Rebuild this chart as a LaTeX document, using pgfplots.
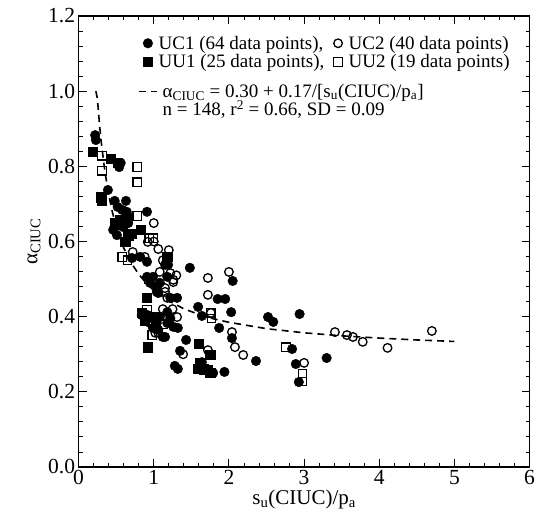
\documentclass[border=0pt]{standalone}
\usepackage{fontspec}
\setmainfont{Liberation Serif}
\usepackage{pgfplots}
\pgfplotsset{compat=1.18}
\usepackage{pgfplotstable}
\pgfplotsset{curvelegend/.style={legend image code/.code={\path (-9pt,-8pt) (9pt,8pt); \draw[##1] (-9pt,-5.4pt) -- (9pt,-5.4pt);}}}

\pgfplotstableread{
x y
0.22 0.883
0.23 0.870
0.39 0.737
0.54 0.798
0.56 0.809
0.48 0.708
0.63 0.708
0.52 0.692
0.58 0.684
0.64 0.679
0.67 0.665
0.91 0.679
0.46 0.631
0.51 0.617
0.59 0.639
0.66 0.649
0.71 0.556
0.82 0.559
0.91 0.546
1.15 0.538
1.19 0.538
1.48 0.530
0.91 0.506
0.99 0.506
1.18 0.506
0.95 0.490
1.08 0.490
1.04 0.479
1.04 0.466
1.06 0.463
1.22 0.450
1.31 0.450
1.59 0.426
1.64 0.402
0.84 0.404
0.92 0.404
0.99 0.399
1.08 0.399
1.18 0.412
1.22 0.396
1.18 0.383
1.26 0.373
1.32 0.370
1.04 0.383
0.99 0.370
1.06 0.365
1.15 0.346
1.43 0.338
1.35 0.309
1.28 0.269
1.32 0.261
1.64 0.279
2.52 0.399
2.59 0.386
2.94 0.407
2.05 0.495
1.85 0.447
1.95 0.447
2.03 0.412
1.87 0.370
2.04 0.343
2.36 0.282
2.84 0.314
2.89 0.274
2.93 0.226
3.30 0.290
1.12 0.346
1.79 0.250
1.94 0.253
}\ucone

\pgfplotstableread{
x y
1.00 0.649
0.92 0.599
1.20 0.577
0.72 0.572
0.88 0.559
1.08 0.519
1.22 0.516
1.26 0.498
1.72 0.503
1.15 0.476
1.26 0.492
1.15 0.466
1.18 0.450
1.72 0.458
2.00 0.519
0.95 0.383
1.06 0.357
1.31 0.399
1.39 0.300
1.72 0.311
2.04 0.359
2.08 0.319
2.19 0.298
3.00 0.277
3.41 0.359
3.57 0.351
3.65 0.346
3.78 0.333
4.11 0.317
4.70 0.362
1.02 0.357
1.76 0.410
1.00 0.600
1.06 0.580
1.12 0.550
1.30 0.510
0.98 0.380
1.02 0.385
1.12 0.420
1.25 0.420
}\uctwo

\pgfplotstableread{
x y
0.19 0.838
0.43 0.820
0.52 0.810
0.30 0.718
0.31 0.708
0.55 0.657
0.58 0.644
0.66 0.617
0.83 0.631
1.18 0.559
0.84 0.410
0.91 0.399
0.92 0.319
1.60 0.327
1.75 0.298
1.61 0.277
1.59 0.261
1.71 0.258
1.75 0.250
0.91 0.450
0.62 0.600
0.48 0.650
0.70 0.620
0.88 0.390
1.66 0.260
}\uuone

\pgfplotstableread{
x y
0.31 0.828
0.31 0.788
0.78 0.798
0.78 0.758
0.78 0.668
0.58 0.559
0.94 0.609
0.99 0.609
0.91 0.418
0.98 0.351
1.76 0.410
1.77 0.395
2.76 0.319
2.98 0.249
2.98 0.228
1.00 0.400
0.93 0.500
0.65 0.550
1.13 0.380
}\uutwo

\pgfplotstableread{
x y
0.23 1.000
0.25 0.980
0.28 0.907
0.30 0.867
0.35 0.786
0.40 0.725
0.45 0.678
0.50 0.640
0.60 0.583
0.70 0.543
0.80 0.513
0.90 0.489
1.00 0.470
1.20 0.442
1.40 0.421
1.60 0.406
1.80 0.394
2.00 0.385
2.50 0.368
3.00 0.357
3.50 0.349
4.00 0.343
4.50 0.338
5.00 0.334
}\fitcurve

\begin{document}
\begin{tikzpicture}
\useasboundingbox (-78.6pt,-62pt) rectangle (457.4pt,467pt);
\begin{axis}[
  scale only axis, width=451pt, height=451pt,
  xmin=0, xmax=6, ymin=0, ymax=1.2,
  xtick={0,1,2,3,4,5,6},
  ytick={0,0.2,0.4,0.6,0.8,1.0,1.2},
  minor x tick num=4, minor y tick num=4,
  xtick pos=both, ytick pos=both,
  tick align=inside,
  major tick length=8pt, minor tick length=4pt,
  axis line style={line width=1.1pt},
  every tick/.style={black, line width=0.9pt},
  /pgf/number format/assume math mode=true,
  yticklabel style={/pgf/number format/.cd, fixed, fixed zerofill, precision=1},
  ticklabel style={font=\fontsize{21.5}{25}\selectfont},
  label style={font=\fontsize{21}{25}\selectfont},
  xlabel={s\textsubscript{u}(CIUC)/p\textsubscript{a}},
  ylabel={α\textsubscript{CIUC}},
  xlabel style={at={(axis description cs:0.5,-0.071)}, anchor=center},
  ylabel style={at={(axis description cs:-0.099,0.5)}, anchor=center, rotate=0},
  legend columns=2,
  legend style={draw=none, fill=none, inner sep=0pt, outer sep=0pt,
    at={(0.958,0.958)}, anchor=north east,
    font=\fontsize{19}{23}\selectfont,
    nodes={inner sep=1pt},
    cells={anchor=west},
    row sep=2pt,
    /tikz/every even column/.append style={column sep=3pt}},
  legend image code/.code={\path (-9pt,0pt) (9pt,0pt); \draw[#1] plot coordinates {(0pt,0pt)};},
]
\addplot[black, dash pattern=on 7pt off 5pt, line width=1.6pt, forget plot] table {\fitcurve};
\addplot[only marks, mark=*, mark size=4.8pt, black] table {\ucone};
\addlegendentry{UC1 (64 data points),}
\addplot[only marks, mark=o, mark size=4.3pt, black, line width=1.3pt] table {\uctwo};
\addlegendentry{UC2 (40 data points)}
\addplot[only marks, mark=square*, mark size=4.6pt, black] table {\uuone};
\addlegendentry{UU1 (25 data points),}
\addplot[only marks, mark=square, mark size=4.2pt, black, line width=1.2pt] table {\uutwo};
\addlegendentry{UU2 (19 data points)}
\addlegendimage{black, dash pattern=on 7pt off 5pt, line width=1.6pt, curvelegend}
\addlegendentry{\rule{0pt}{24pt}\rlap{\hspace{4pt}α\textsubscript{CIUC} = 0.30 + 0.17/[s\textsubscript{u}(CIUC)/p\textsubscript{a}]}\rlap{\hspace{4pt}\raisebox{-18.5pt}[0pt][0pt]{n = 148, r\textsuperscript{2} = 0.66, SD = 0.09}}}
\end{axis}
\end{tikzpicture}
\end{document}
